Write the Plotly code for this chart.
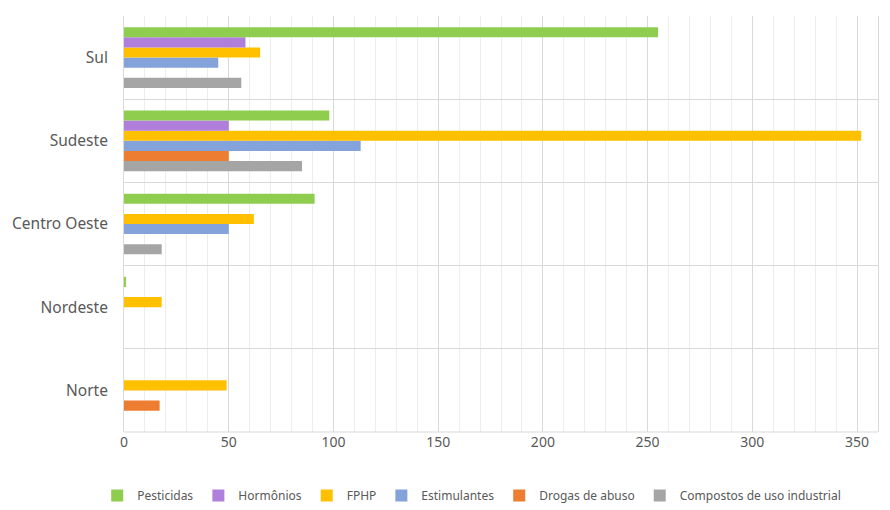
import plotly.graph_objects as go

regions = ["Norte", "Nordeste", "Centro Oeste", "Sudeste", "Sul"]
series_names = ["Pesticidas", "Hormônios", "FPHP", "Estimulantes", "Drogas de abuso", "Compostos de uso industrial"]
pesticidas = [None, 1, 91, 98, 255]
hormonios = [None, None, None, 50, 58]
fphp = [49, 18, 62, 352, 65]
estimulantes = [None, None, 50, 113, 45]
drogas = [17, None, None, 50, None]
compostos = [None, None, 18, 85, 56]
colors = ["#8FCD4F", "#B07FDC", "#FFC000", "#84A3DA", "#ED7D31", "#A5A5A5"]

values = [pesticidas, hormonios, fphp, estimulantes, drogas, compostos]

fig = go.Figure()
for name, vals, col in reversed(list(zip(series_names, values, colors))):
    fig.add_trace(go.Bar(y=regions, x=vals, name=name, orientation="h",
                         marker=dict(color=col, line=dict(width=0))))

fig.update_layout(
    width=890, height=510,
    margin=dict(l=124, r=12, t=16, b=78),
    barmode="group", bargap=0.27, bargroupgap=0,
    plot_bgcolor="white", paper_bgcolor="white",
    font=dict(family="Noto Sans, Open Sans, sans-serif", color="#595959", size=14),
    legend=dict(orientation="h", traceorder="reversed",
                xref="container", x=0.53, xanchor="center",
                yref="container", y=0.0, yanchor="bottom",
                font=dict(size=12, color="#595959"),
                itemwidth=30, entrywidthmode="pixels", entrywidth=0,
                bgcolor="rgba(0,0,0,0)"),
    showlegend=True,
)
fig.update_xaxes(range=[0, 360], tickvals=[0, 50, 100, 150, 200, 250, 300, 350],
                 showgrid=True, gridcolor="#D9D9D9", gridwidth=1,
                 minor=dict(dtick=10, showgrid=True, gridcolor="#EDEDED", gridwidth=1),
                 zeroline=False, showline=False, ticks="", tickfont=dict(size=14),
                 automargin=False)
fig.update_yaxes(type="category", categoryorder="array", categoryarray=regions,
                 tickson="boundaries", showgrid=True, gridcolor="#D9D9D9", gridwidth=1,
                 showline=True, linecolor="#D9D9D9", mirror=True, ticks="",
                 ticklabelstandoff=12, tickfont=dict(size=15.5), automargin=False)
fig.add_shape(type="line", xref="paper", yref="paper", x0=0, x1=1, y0=0, y1=0,
              line=dict(color="#D9D9D9", width=1))
fig.write_html("out.html")
